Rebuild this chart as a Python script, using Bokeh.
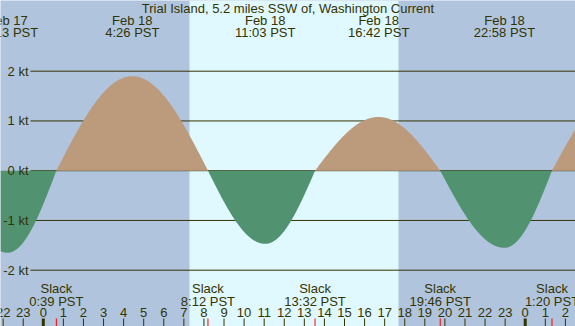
import numpy as np
from bokeh.plotting import figure
from bokeh.models import Range1d
from bokeh.core.properties import value
from bokeh.embed import file_html
from bokeh.resources import INLINE

# ---------------- data (hours since Feb 18 00:00 PST, speeds in knots) ----------------
title_text = "Trial Island, 5.2 miles SSW of, Washington Current"

ext_hours = [-1.783, 4.433, 11.05, 16.70, 22.967]
ext_speeds = [-1.65, 1.90, -1.47, 1.08, -1.55]
ext_dates = ["Feb 17", "Feb 18", "Feb 18", "Feb 18", "Feb 18"]
ext_times = ["22:13 PST", "4:26 PST", "11:03 PST", "16:42 PST", "22:58 PST"]

slack_hours = [0.65, 8.20, 13.533, 19.767, 25.333]
slack_times = ["0:39 PST", "8:12 PST", "13:32 PST", "19:46 PST", "1:20 PST"]

# events just outside the visible window (estimated from the curve at the edges)
edge_hours = [-4.5, 28.9]
edge_speeds = [0.0, 1.70]

sunrise = [7.28]
sunset = [17.69]

grid_kt = [2, 1, 0, -1, -2]
grid_labels = ["2 kt", "1 kt", "0 kt", "-1 kt", "-2 kt"]

hour_ticks = list(range(-2, 27))
hour_labels = [str(h % 24) for h in hour_ticks]

# ---------------- layout ----------------
W, H = 575, 326
PPH = 20.08       # pixels per hour
X0PX = 42.8       # pixel of Feb 18 00:00
PPK = 49.75       # pixels per knot
Y0PX = 170.2      # pixel of 0 kt

x_start = -X0PX / PPH
x_end = (W - X0PX) / PPH
y_end = Y0PX / PPK
y_start = -(H - Y0PX) / PPK

def ypx(py):
    return y_end - py / PPK

def xpx(px):
    return x_start + px / PPH

NIGHT = "#B0C4DE"
DAY = "#E0F8FF"
FLOOD = "#BC9B7C"
EBB = "#519270"
INK = "#333300"
FONT = value("Liberation Sans")
FS = "13px"

p = figure(width=W, height=H, x_range=Range1d(x_start, x_end), y_range=Range1d(y_start, y_end),
           output_backend="svg", toolbar_location=None, x_axis_location=None, y_axis_location=None,
           min_border=0, outline_line_color=None,
           background_fill_color=NIGHT, border_fill_color=NIGHT)
p.xgrid.visible = False
p.ygrid.visible = False

# daylight band
p.quad(left=sunrise, right=sunset, bottom=[y_start], top=[y_end],
       fill_color=DAY, line_color=None)

# grid lines
gx0 = xpx(30)
p.segment(x0=[gx0] * len(grid_kt), x1=[x_end] * len(grid_kt), y0=grid_kt, y1=grid_kt,
          line_color=INK, line_width=1)

# current curve: sinusoidal segments between slack and extreme events
ev_t = np.array(edge_hours[:1] + sorted(ext_hours + slack_hours) + edge_hours[1:])
lookup = dict(zip(ext_hours + slack_hours, ext_speeds + [0.0] * len(slack_hours)))
lookup.update(dict(zip(edge_hours, edge_speeds)))
ev_v = np.array([lookup[t] for t in ev_t])

t = np.linspace(x_start, x_end, 1500)
v = np.zeros_like(t)
for i in range(len(ev_t) - 1):
    a, b = ev_t[i], ev_t[i + 1]
    m = (t >= a) & (t <= b)
    s = (t[m] - a) / (b - a)
    if ev_v[i] == 0:
        v[m] = ev_v[i + 1] * np.sin(np.pi / 2 * s)
    else:
        v[m] = ev_v[i] * np.cos(np.pi / 2 * s)

p.varea(x=t, y1=np.zeros_like(v), y2=np.maximum(v, 0), fill_color=FLOOD)
p.varea(x=t, y1=np.minimum(v, 0), y2=np.zeros_like(v), fill_color=EBB)

# y labels
p.text(x=[x_start] * len(grid_kt), y=grid_kt, text=grid_labels, x_offset=28,
       text_align="right", text_baseline="middle", text_color=INK,
       text_font=FONT, text_font_size=FS)

# title
p.text(x=[xpx(287.5)], y=[ypx(7.5)], text=[title_text], text_align="center",
       text_baseline="middle", text_color=INK, text_font=FONT, text_font_size=FS)

# extreme labels
p.text(x=ext_hours, y=[ypx(19.8)] * len(ext_hours), text=ext_dates, text_align="center",
       text_baseline="middle", text_color=INK, text_font=FONT, text_font_size=FS)
p.text(x=ext_hours, y=[ypx(32.0)] * len(ext_hours), text=ext_times, text_align="center",
       text_baseline="middle", text_color=INK, text_font=FONT, text_font_size=FS)

# slack labels
p.text(x=slack_hours, y=[ypx(288.0)] * len(slack_hours), text=["Slack"] * len(slack_hours),
       text_align="center", text_baseline="middle", text_color=INK, text_font=FONT, text_font_size=FS)
p.text(x=slack_hours, y=[ypx(300.5)] * len(slack_hours), text=slack_times,
       text_align="center", text_baseline="middle", text_color=INK, text_font=FONT, text_font_size=FS)

# hour labels and ticks
p.text(x=hour_ticks, y=[ypx(311.8)] * len(hour_ticks), text=hour_labels,
       text_align="center", text_baseline="middle", text_color=INK, text_font=FONT, text_font_size=FS)
tick_w = [3 if h % 24 == 0 else 1 for h in hour_ticks]
p.segment(x0=hour_ticks, x1=hour_ticks, y0=[ypx(318)] * len(hour_ticks), y1=[y_start] * len(hour_ticks),
          line_color=INK, line_width=tick_w)
p.segment(x0=slack_hours, x1=slack_hours, y0=[ypx(318)] * len(slack_hours), y1=[y_start] * len(slack_hours),
          line_color="#FF0000", line_width=1)

html = file_html(p, INLINE)
html = html.replace("<head>", "<head><style>html,body{margin:0;padding:0;overflow:hidden;}</style>", 1)
open("out.html", "w").write(html)
